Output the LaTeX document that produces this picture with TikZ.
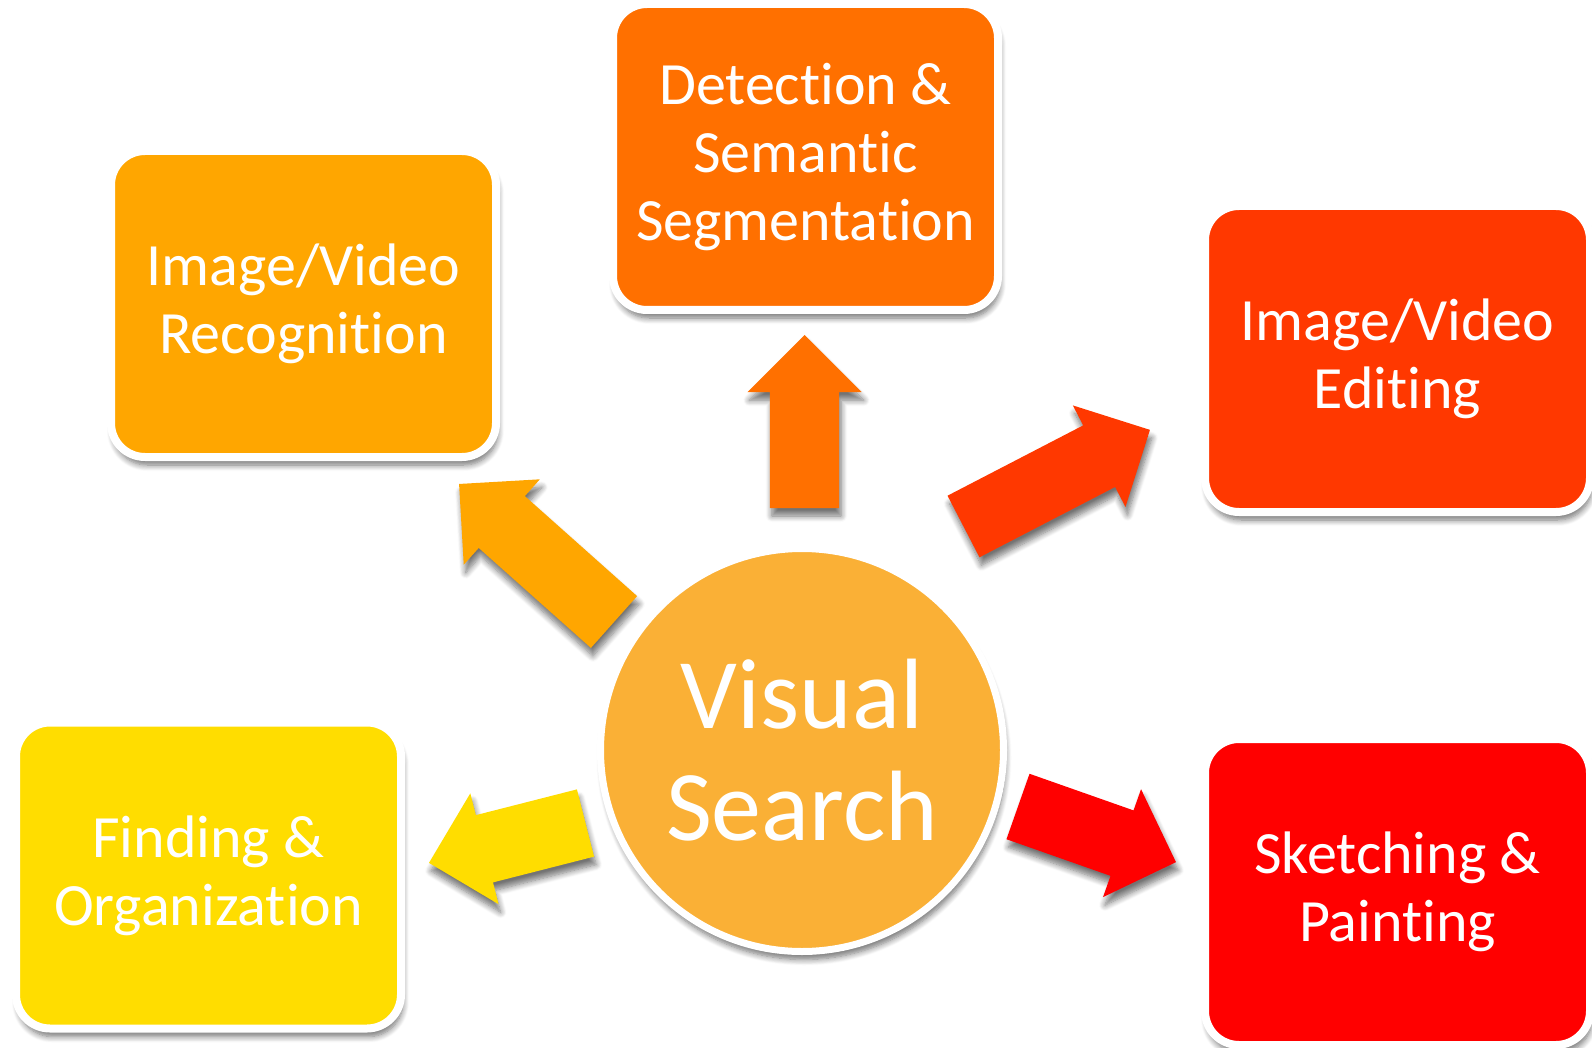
\documentclass[tikz,border=0pt]{standalone}
\usepackage{fontspec}
\setmainfont{Carlito}[Ligatures=NoCommon]
\usetikzlibrary{shapes.arrows,shadows.blur}
\definecolor{cRec}{RGB}{255,166,0}
\definecolor{cDet}{RGB}{255,112,0}
\definecolor{cEdi}{RGB}{255,56,0}
\definecolor{cSke}{RGB}{255,0,0}
\definecolor{cFin}{RGB}{255,221,0}
\definecolor{cCen}{RGB}{250,176,54}
\tikzset{
  softshadow/.style={blur shadow={shadow xshift=2pt, shadow yshift=-8pt, shadow blur radius=6pt, shadow blur steps=8, shadow opacity=55}},
  topicbox/.style={rectangle, rounded corners=34pt, draw=white, line width=8pt, minimum width=385pt, minimum height=306pt, inner sep=0pt, align=center, text=white, font=\fontsize{60}{68}\selectfont, softshadow},
  hub/.style={circle, draw=white, line width=7pt, minimum size=403pt, inner sep=0pt, align=center, text=white, font=\fontsize{100}{112}\selectfont, softshadow},
  blockarrow/.style={single arrow, single arrow tip angle=90, single arrow head extend=22.5pt, single arrow head indent=0pt, inner xsep=0pt, inner ysep=34.5pt, minimum width=114pt, outer sep=0pt, anchor=tail, draw=none, softshadow}
}
\begin{document}
\begin{tikzpicture}[x=1pt,y=-1pt]
\useasboundingbox (0,0) rectangle (1592,1048);
% block arrows
\node[blockarrow, fill=cDet, rotate=90, minimum height=173pt] (aDet) at (804.5,508) {};
\node[blockarrow, fill=cRec, rotate=138.3, minimum height=207.5pt] (aRec) at (614,622) {};
\node[blockarrow, fill=cEdi, rotate=27.4, minimum height=210pt] (aEdi) at (963.5,526.5) {};
\node[blockarrow, fill=cFin, rotate=194.3, minimum height=161.5pt] (aFin) at (585.5,823) {};
\node[blockarrow, fill=cSke, rotate=-19.4, minimum height=167.5pt] (aSke) at (1018,806.5) {};
% topic boxes
\node[topicbox, fill=cRec] (rec) at (303.5,304) {Image/Video\\Recognition};
\node[topicbox, fill=cDet] (det) at (805.5,157) {Detection \&\\Semantic\\Segmentation};
\node[topicbox, fill=cEdi] (edi) at (1397.5,359) {Image/Video\\Editing};
\node[topicbox, fill=cFin] (fin) at (208.5,875.5) {Finding \&\\Organization};
\node[topicbox, fill=cSke] (ske) at (1397.5,892) {Sketching \&\\Painting};
% hub
\node[hub, fill=cCen] (vs) at (802,750) {Visual\\Search};
\end{tikzpicture}
\end{document}
